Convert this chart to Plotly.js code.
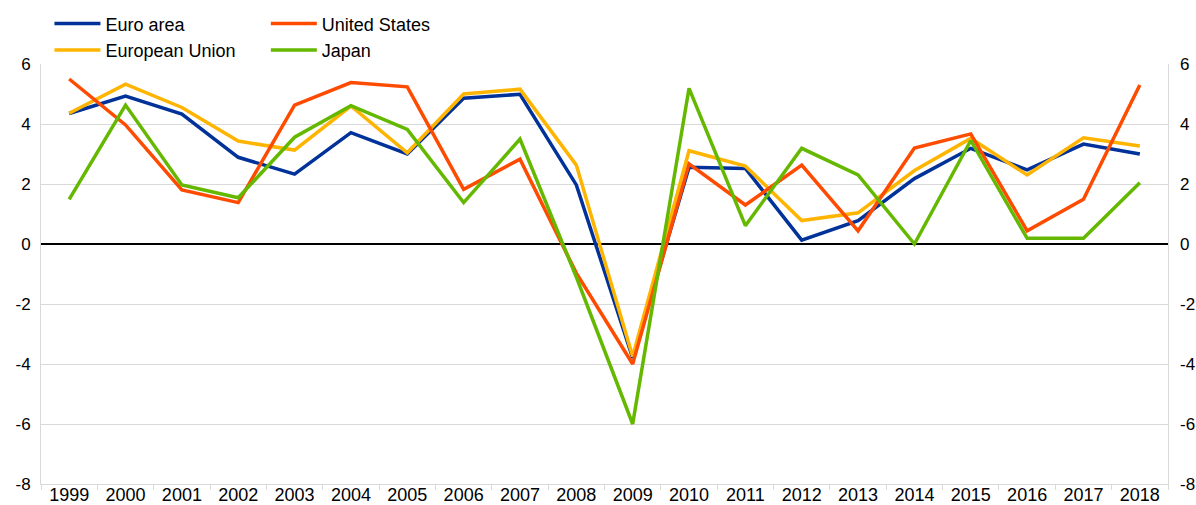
<!DOCTYPE html>
<html>
<head>
<meta charset="utf-8">
<script src="https://cdn.plot.ly/plotly-3.0.1.min.js"></script>
<style>html,body{margin:0;padding:0;background:#fff;}#chart{width:1196px;height:505px;}</style>
</head>
<body>
<div id="chart"></div>
<script>
const years = ["1999","2000","2001","2002","2003","2004","2005","2006","2007","2008","2009","2010","2011","2012","2013","2014","2015","2016","2017","2018"];
const euroArea = [4.35,4.93,4.33,2.89,2.33,3.71,3.0,4.86,4.99,1.97,-3.8,2.56,2.52,0.13,0.78,2.18,3.19,2.47,3.33,3.0];
const europeanUnion = [4.36,5.33,4.55,3.43,3.13,4.6,3.04,5.0,5.16,2.63,-3.75,3.11,2.6,0.78,1.04,2.45,3.52,2.3,3.54,3.27];
const unitedStates = [5.5,3.97,1.8,1.38,4.63,5.38,5.24,1.82,2.83,-0.97,-4.0,2.67,1.3,2.63,0.44,3.2,3.67,0.44,1.49,5.3];
const japan = [1.49,4.63,1.97,1.54,3.56,4.61,3.82,1.38,3.5,-1.1,-6.0,5.19,0.61,3.19,2.3,0.0,3.45,0.19,0.19,2.04];
const yTickVals = [-8,-6,-4,-2,0,2,4,6];
const yTickText = ["-8","-6","-4","-2","0","2","4","6"];

const W = 3.5;
const traces = [
  {name:"Euro area", x:years, y:euroArea, type:"scatter", mode:"lines", line:{color:"#003299", width:W}, legend:"legend"},
  {name:"European Union", x:years, y:europeanUnion, type:"scatter", mode:"lines", line:{color:"#ffb400", width:W}, legend:"legend"},
  {name:"United States", x:years, y:unitedStates, type:"scatter", mode:"lines", line:{color:"#ff4b00", width:W}, legend:"legend2"},
  {name:"Japan", x:years, y:japan, type:"scatter", mode:"lines", line:{color:"#65b800", width:W}, legend:"legend2"},
  {name:"_r", x:years, y:euroArea, type:"scatter", mode:"lines", yaxis:"y2", line:{color:"rgba(0,0,0,0)", width:0}, showlegend:false, hoverinfo:"skip"}
];

const fam = "Liberation Sans, Arial, sans-serif";
const legendFont = {family:fam, size:18, color:"#000"};
const xFont = {family:fam, size:18, color:"#000"};
const yFont = {family:fam, size:17, color:"#000"};
const legendCommon = {orientation:"v", bgcolor:"rgba(0,0,0,0)", font:legendFont, tracegroupgap:0, itemwidth:46, yanchor:"top", xanchor:"left"};
const layout = {
  width:1196, height:505,
  margin:{l:41, r:28, t:64, b:21, autoexpand:false},
  paper_bgcolor:"#fff", plot_bgcolor:"#fff",
  font:legendFont,
  showlegend:true,
  legend:Object.assign({}, legendCommon, {x:0.0075, y:1.1395}),
  legend2:Object.assign({}, legendCommon, {x:0.1995, y:1.1395}),
  xaxis:{type:"category", range:[-0.5,19.5], showgrid:false, zeroline:false, showline:true, linecolor:"#d9d9d9", linewidth:1,
         ticks:"outside", tickson:"boundaries", ticklen:5, tickcolor:"#d9d9d9", tickfont:xFont, ticklabelstandoff:-6,
         fixedrange:true, automargin:false},
  yaxis:{range:[-8,6], tickvals:yTickVals, ticktext:yTickText, showgrid:true, gridcolor:"#d9d9d9", gridwidth:1,
         zeroline:true, zerolinecolor:"#000", zerolinewidth:1.5, showline:true, mirror:true, linecolor:"#d9d9d9", linewidth:1,
         ticks:"", ticklabelstandoff:6, tickfont:yFont, automargin:false, fixedrange:true},
  yaxis2:{range:[-8,6], tickvals:yTickVals, ticktext:yTickText, overlaying:"y", side:"right", showgrid:false, zeroline:false,
          showline:false, ticks:"", ticklabelstandoff:11, tickfont:yFont, automargin:false, fixedrange:true}
};
Plotly.newPlot("chart", traces, layout, {staticPlot:true, displayModeBar:false});
</script>
</body>
</html>
